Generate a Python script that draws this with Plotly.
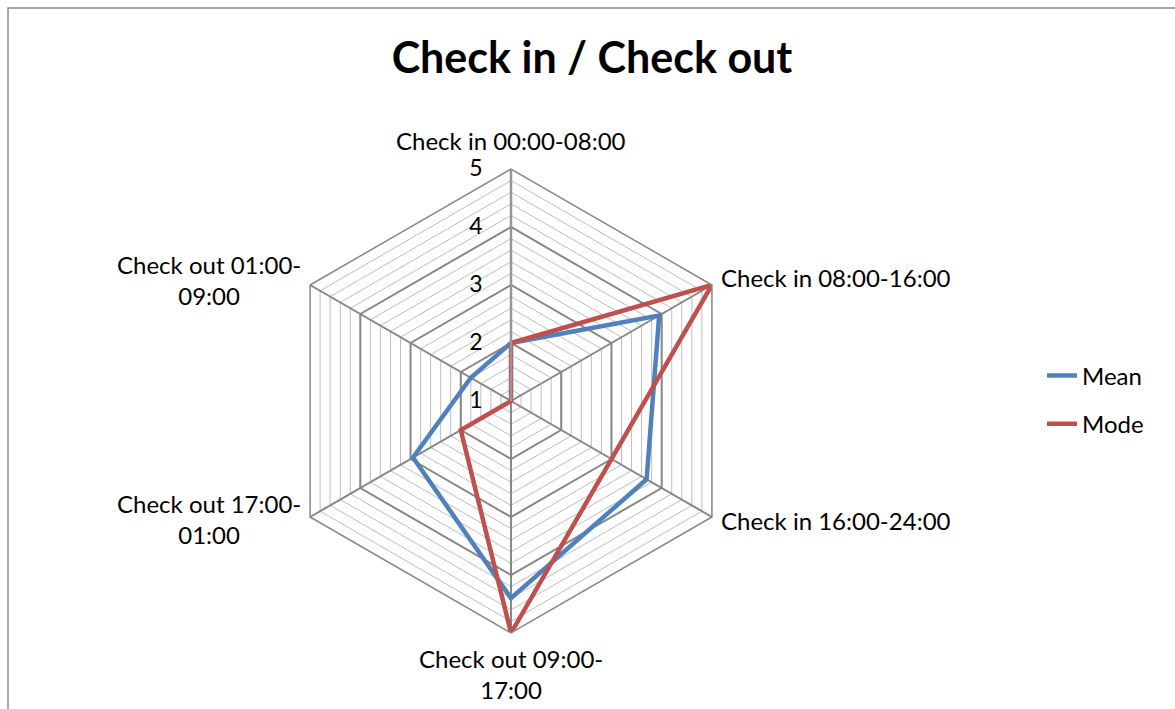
import math
import plotly.graph_objects as go

# Categories in clockwise order starting from the top spoke
categories = [
    "Check in 00:00-08:00",
    "Check in 08:00-16:00",
    "Check in 16:00-24:00",
    "Check out 09:00-17:00",
    "Check out 17:00-01:00",
    "Check out 01:00-09:00",
]
# Spoke labels as displayed (wrapped where the text is long)
category_labels = [
    "Check in 00:00-08:00",
    "Check in 08:00-16:00",
    "Check in 16:00-24:00",
    "Check out 09:00-<br>17:00",
    "Check out 17:00-<br>01:00",
    "Check out 01:00-<br>09:00",
]
mean_values = [2.0, 3.95, 3.7, 4.4, 2.95, 1.8]
mode_values = [2, 5, 3, 5, 2, 1]
radial_ticks = [1, 2, 3, 4, 5]

W, H = 1175, 709
FONT = "Lato"
BLUE = "#4F81BD"
RED = "#C0504D"
MAJOR = "#878787"
MINOR = "#BEBEBE"

# hexagon: centre (511, 401), outer radius 232 px
cx, cy, R = 511, 401, 232
dom_x = [(cx - R) / W, (cx + R) / W]
dom_y = [(H - cy - R) / H, (H - cy + R) / H]


def closed(v):
    return list(v) + [v[0]]


cats_closed = closed(categories)

fig = go.Figure()
fig.add_trace(go.Scatterpolar(
    r=closed(mean_values), theta=cats_closed, mode="lines", name="Mean",
    line=dict(color=BLUE, width=4.5), legendgroup="a", subplot="polar2",
))
fig.add_trace(go.Scatterpolar(
    r=closed(mode_values), theta=cats_closed, mode="lines", name="Mode",
    line=dict(color=RED, width=4.5), legendgroup="b", subplot="polar2",
))
# invisible trace to establish the category axis on the minor-grid layer
fig.add_trace(go.Scatterpolar(
    r=[None] * len(categories), theta=categories, mode="lines",
    showlegend=False, hoverinfo="skip", subplot="polar",
))

minor_vals = [round(1 + 0.2 * i, 1) for i in range(21)]

common_ang = dict(
    categoryorder="array", categoryarray=categories,
    rotation=90, direction="clockwise",
)

# Spoke labels placed just outside each hexagon vertex, lines centred
# (dx, dy offsets from the vertex in px, anchors)
label_place = [
    (0, -29, "center", "middle"),
    (7, -8, "left", "middle"),
    (7, 3, "left", "middle"),
    (0, 41, "center", "middle"),
    (-7, 2, "right", "middle"),
    (-7, -5, "right", "middle"),
]
annotations = []
n = len(categories)
for i, (label, (dx, dy, xa, ya)) in enumerate(zip(category_labels, label_place)):
    ang = math.radians(360 / n * i)
    vx = cx + R * math.sin(ang)
    vy = cy - R * math.cos(ang)
    annotations.append(dict(
        text=label, x=(vx + dx) / W, y=1 - (vy + dy) / H,
        xref="paper", yref="paper", xanchor=xa, yanchor=ya,
        align="center", showarrow=False,
        font=dict(family=FONT, size=24, color="black"),
    ))

fig.update_layout(
    width=W, height=H,
    margin=dict(l=0, r=0, t=0, b=0),
    paper_bgcolor="white",
    font=dict(family=FONT, size=22, color="black"),
    title=dict(
        text="<b>Check in / Check out</b>",
        x=592 / W, xanchor="center", y=1 - 58 / H, yanchor="middle",
        font=dict(family=FONT, size=43, color="black"),
    ),
    polar=dict(
        domain=dict(x=dom_x, y=dom_y),
        gridshape="linear",
        bgcolor="rgba(0,0,0,0)",
        radialaxis=dict(
            range=[1, 5], tickvals=minor_vals, showticklabels=False,
            gridcolor=MINOR, gridwidth=1, showline=False, ticks="",
        ),
        angularaxis=dict(
            **common_ang, showticklabels=False, showgrid=False,
            showline=False, ticks="",
        ),
    ),
    polar2=dict(
        domain=dict(x=dom_x, y=dom_y),
        gridshape="linear",
        bgcolor="rgba(0,0,0,0)",
        radialaxis=dict(
            range=[1, 5], tickvals=radial_ticks,
            ticktext=[str(t) for t in radial_ticks],
            angle=90, side="counterclockwise", tickangle=90,
            gridcolor=MAJOR, gridwidth=1.5,
            showline=True, linecolor="#969696", linewidth=2.5,
            ticks="outside", ticklen=19, tickcolor="rgba(0,0,0,0)",
            tickfont=dict(family=FONT, size=23),
        ),
        angularaxis=dict(
            **common_ang, showticklabels=False,
            gridcolor=MAJOR, gridwidth=1.5,
            showline=True, linecolor=MAJOR, linewidth=1.5,
            ticks="",
        ),
    ),
    annotations=annotations,
    legend=dict(
        x=1042 / W, xanchor="left", y=1 - 400 / H, yanchor="middle",
        font=dict(family=FONT, size=24), tracegroupgap=14,
        bgcolor="rgba(0,0,0,0)",
    ),
    shapes=[dict(
        type="rect", xref="paper", yref="paper",
        x0=8 / W, x1=1.02, y0=-0.02, y1=1 - 8 / H,
        line=dict(color="#8C8C8C", width=1.5), layer="below",
    )],
)

fig.write_html("out.html")
